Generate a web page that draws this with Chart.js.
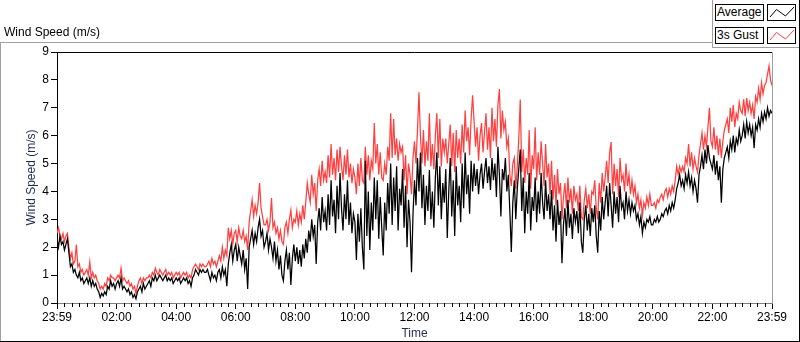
<!DOCTYPE html>
<html>
<head>
<meta charset="utf-8">
<script src="https://cdn.jsdelivr.net/npm/chart.js@4.4.1/dist/chart.umd.min.js"></script>
<style>
  html, body { margin: 0; padding: 0; background: #fff; }
  #wrap { position: relative; width: 800px; height: 342px; overflow: hidden; font-family: "Liberation Sans", Arial, sans-serif; font-size: 12px; color: #000; }
  #chart { position: absolute; left: 0; top: 0; }
  #title { position: absolute; left: 4px; top: 25px; line-height: 14px; white-space: nowrap; }
  .frame { position: absolute; }
  #legend { position: absolute; left: 712px; top: 0; width: 87px; height: 48px; border-left: 1px solid #a0a0a0; border-bottom: 1px solid #a0a0a0; box-sizing: border-box; background: #fff; }
  .lg-name { position: absolute; left: 2px; width: 49px; height: 17px; border: 1px solid #000; box-sizing: border-box; line-height: 14px; padding-left: 1px; white-space: nowrap; }
  .lg-icon { position: absolute; left: 54px; width: 29px; height: 17px; border: 1px solid #000; box-sizing: border-box; }
  .lg-icon svg { position: absolute; left: 0; top: 0; }
</style>
</head>
<body>
<div id="wrap">
  <canvas id="chart" width="800" height="342"></canvas>
  <div id="title">Wind Speed (m/s)</div>
  <div class="frame" style="left:0;top:42px;width:712px;height:1px;background:#a0a0a0"></div>
  <div class="frame" style="left:0;top:42px;width:1px;height:300px;background:#a0a0a0"></div>
  <div class="frame" style="left:0;top:341px;width:800px;height:1px;background:#000"></div>
  <div class="frame" style="left:799px;top:0;width:1px;height:342px;background:#000"></div>
  <div id="legend"></div>
</div>
<script>
// one sample every 3 minutes, 23:59 -> 23:59 (20 values per row = 1 hour)
const SAMPLE_STEP_MIN = 3;

const X_TICK_LABELS = ['23:59', '02:00', '04:00', '06:00', '08:00', '10:00', '12:00',
  '14:00', '16:00', '18:00', '20:00', '22:00', '23:59'];

const AVERAGE = [
  2.3, 2.0, 2.4, 2.1, 2.2, 1.9, 2.1, 2.3, 1.8, 1.3, 1.4, 1.1, 1.2, 1.0, 0.9, 1.1, 0.8, 0.9, 0.7, 0.8,
  0.9, 0.7, 0.9, 0.6, 0.8, 0.6, 0.7, 0.5, 0.4, 0.2, 0.35, 0.25, 0.4, 0.3, 0.6, 0.5, 0.8, 0.6, 0.7, 0.5,
  0.7, 0.8, 0.6, 0.9, 0.5, 0.6, 0.5, 0.4, 0.5, 0.3, 0.4, 0.2, 0.3, 0.15, 0.4, 0.5, 0.6, 0.4, 0.7, 0.5,
  0.6, 0.7, 0.8, 0.6, 0.9, 0.8, 1.0, 0.8, 0.9, 1.0, 0.9, 0.8, 0.9, 1.0, 0.8, 0.9, 0.8, 0.9, 0.7, 0.8,
  0.9, 0.8, 0.9, 0.7, 0.8, 0.9, 0.8, 0.9, 0.7, 0.8, 0.6, 0.9, 1.0, 1.2, 1.1, 1.0, 1.2, 1.1, 1.2, 1.1,
  1.1, 1.2, 1.0, 0.8, 1.1, 0.9, 1.0, 0.8, 1.1, 1.2, 0.9, 1.3, 1.0, 1.2, 0.6, 1.4, 1.8, 2.1, 1.5, 1.9,
  2.1, 1.5, 2.0, 1.7, 1.4, 1.9, 1.2, 1.6, 0.5, 2.0, 2.3, 2.6, 2.1, 2.5, 2.2, 2.7, 3.0, 2.4, 2.6, 2.0,
  2.2, 2.5, 1.9, 2.3, 2.0, 1.6, 2.2, 1.5, 1.9, 1.2, 1.7, 1.0, 0.8, 1.5, 1.9, 1.2, 1.8, 0.65, 1.6, 2.1,
  1.5, 2.0, 1.4, 1.9, 1.3, 2.1, 1.6, 2.3, 1.8, 2.6, 2.2, 3.0, 2.4, 2.8, 1.4, 2.9, 3.4, 2.6, 3.8, 2.9,
  3.3, 2.6, 3.9, 2.8, 4.4, 3.1, 3.7, 2.5, 4.2, 3.0, 4.66, 3.4, 2.6, 3.9, 3.0, 4.4, 2.8, 3.6, 2.5, 3.2,
  2.9, 1.54, 3.2, 2.2, 3.4, 2.0, 1.2, 5.1, 2.4, 4.0, 1.9, 3.6, 2.6, 4.5, 3.0, 4.4, 2.3, 3.8, 2.7, 1.7,
  3.6, 2.6, 4.3, 3.2, 5.0, 2.8, 4.5, 3.3, 4.9, 2.6, 4.1, 3.5, 4.8, 2.7, 4.2, 2.0, 3.7, 2.9, 1.1, 3.2,
  4.4, 3.5, 5.2, 4.0, 5.4, 3.4, 4.6, 2.8, 4.2, 3.3, 4.77, 3.0, 4.0, 2.7, 4.5, 5.4, 3.5, 4.9, 3.0, 4.3,
  3.6, 4.8, 2.33, 4.0, 5.2, 3.1, 4.4, 2.4, 4.9, 3.5, 4.2, 2.9, 5.0, 3.4, 5.4, 3.9, 4.6, 3.2, 5.1, 4.0,
  5.0, 4.2, 4.8, 3.9, 4.6, 5.0, 4.1, 4.7, 5.2, 4.3, 4.9, 4.05, 5.2, 4.4, 5.0, 3.8, 5.6, 4.6, 3.1, 4.8,
  4.4, 5.2, 4.0, 4.6, 3.3, 1.83, 3.6, 4.4, 3.0, 4.1, 4.8, 5.5, 3.3, 4.5, 2.5, 4.0, 3.2, 4.66, 2.6, 3.8,
  3.3, 4.5, 2.9, 4.0, 3.2, 4.66, 3.6, 3.0, 4.4, 3.3, 3.9, 3.0, 4.05, 2.6, 3.5, 2.2, 3.7, 2.8, 3.3, 1.43,
  2.8, 3.4, 2.4, 3.7, 2.7, 3.2, 2.3, 3.4, 2.9, 3.3, 2.5, 3.6, 2.2, 1.8, 3.0, 3.5, 2.6, 3.2, 2.4, 3.4,
  2.9, 3.5, 2.4, 1.8, 3.3, 2.6, 3.8, 3.0, 3.6, 4.2, 3.1, 4.3, 3.5, 2.7, 4.0, 3.2, 3.8, 2.9, 4.2, 3.4,
  3.6, 3.0, 4.0, 3.3, 3.7, 3.2, 3.6, 3.3, 3.5, 3.0, 3.2, 2.8, 3.1, 2.5, 2.9, 2.7, 3.0, 2.9, 3.1, 2.8,
  2.8, 3.0, 2.9, 3.1, 2.9, 3.0, 3.2, 3.1, 3.3, 3.4, 3.2, 3.5, 3.3, 3.6, 3.4, 3.7, 4.1, 4.3, 4.6, 4.2,
  4.4, 4.1, 4.6, 4.3, 4.7, 4.2, 4.5, 4.0, 4.4, 4.1, 3.6, 4.6, 4.9, 5.3, 4.8, 5.5, 5.0, 5.66, 5.2, 5.0,
  4.8, 5.3, 4.6, 5.1, 4.4, 4.9, 3.6, 4.8, 5.2, 5.4, 5.6, 5.2, 5.8, 5.5, 6.0, 5.4, 5.9, 5.7, 6.2, 5.8,
  6.0, 6.4, 5.9, 6.5, 6.1, 6.4, 6.0, 6.3, 5.55, 6.4, 6.2, 6.6, 6.3, 6.8, 6.5, 6.85, 6.6, 7.0, 6.7, 6.9,
  6.8
];

const GUST_3S = [
  2.5, 2.7, 2.4, 2.3, 2.5, 2.2, 2.4, 2.5, 2.0, 1.6, 1.8, 1.4, 1.5, 2.1, 1.3, 1.4, 1.1, 1.2, 1.0, 1.1,
  1.2, 1.0, 1.47, 0.9, 1.1, 0.9, 1.0, 0.8, 0.7, 0.5, 0.6, 0.5, 0.7, 0.6, 0.9, 0.8, 1.0, 0.9, 0.9, 0.8,
  0.9, 1.0, 0.9, 1.25, 0.8, 0.9, 0.8, 0.7, 0.8, 0.6, 0.7, 0.5, 0.6, 0.35, 0.6, 0.8, 0.9, 0.7, 0.9, 0.8,
  0.9, 0.9, 1.0, 0.9, 1.1, 1.0, 1.25, 1.1, 1.0, 1.2, 1.1, 1.0, 1.1, 1.2, 1.0, 1.1, 1.0, 1.1, 0.9, 1.0,
  1.1, 1.0, 1.1, 0.9, 1.0, 1.1, 1.0, 1.1, 0.9, 1.0, 0.9, 1.2, 1.3, 1.4, 1.3, 1.2, 1.4, 1.3, 1.4, 1.3,
  1.3, 1.4, 1.5, 1.3, 1.6, 1.4, 1.5, 1.3, 1.5, 1.7, 1.5, 2.0, 1.6, 1.9, 1.7, 2.7, 2.3, 2.6, 2.1, 2.5,
  2.6, 2.2, 2.7, 2.4, 2.3, 2.6, 2.2, 2.4, 1.9, 2.9, 3.3, 3.7, 3.1, 3.5, 3.2, 3.6, 4.3, 3.4, 3.1, 2.8,
  2.8, 3.0, 2.6, 2.9, 3.76, 2.7, 2.9, 2.5, 2.7, 2.3, 2.6, 2.2, 2.1, 2.7, 2.9, 2.5, 3.0, 3.33, 2.7, 3.0,
  2.9, 3.3, 2.8, 3.2, 2.9, 3.5, 3.0, 3.6, 4.3, 3.9, 3.6, 4.6, 3.9, 4.3, 3.3, 4.4, 4.8, 4.2, 5.1, 4.4,
  4.7, 4.3, 5.3, 4.5, 5.7, 4.6, 5.2, 4.4, 5.5, 4.7, 5.6, 4.9, 4.4, 5.3, 4.6, 5.5, 4.5, 5.0, 4.3, 4.8,
  4.5, 3.9, 5.0, 4.2, 5.2, 4.4, 4.3, 5.6, 4.6, 5.3, 4.4, 5.1, 4.8, 6.45, 5.0, 5.7, 4.6, 5.4, 4.5, 4.4,
  5.0, 4.6, 5.6, 5.1, 6.8, 5.2, 6.6, 5.3, 5.9, 5.1, 5.7, 5.4, 5.6, 4.4, 5.3, 3.9, 5.0, 4.6, 3.9, 5.2,
  5.8, 5.0, 6.2, 7.56, 6.0, 5.0, 6.2, 4.9, 5.8, 5.1, 6.8, 4.9, 5.7, 4.8, 6.0, 6.8, 5.2, 6.6, 4.9, 5.9,
  5.4, 5.9, 5.0, 5.7, 6.4, 4.9, 6.1, 4.7, 6.2, 5.2, 5.9, 5.0, 6.4, 5.4, 6.9, 5.8, 6.3, 5.3, 6.6, 7.45,
  6.5, 5.6, 6.3, 5.1, 6.0, 6.45, 5.4, 6.1, 6.8, 5.5, 6.3, 5.2, 7.0, 5.8, 6.6, 5.6, 7.1, 7.67, 5.9, 6.9,
  6.2, 6.5, 5.6, 5.9, 4.6, 4.2, 5.0, 5.2, 4.1, 4.9, 5.9, 7.3, 4.7, 5.5, 4.3, 5.2, 4.6, 6.2, 4.1, 5.3,
  4.8, 6.3, 4.4, 5.4, 4.6, 5.8, 5.0, 4.2, 5.7, 4.5, 5.0, 3.9, 5.1, 3.7, 4.6, 3.5, 4.8, 3.9, 4.3, 3.0,
  3.8, 4.3, 3.4, 4.5, 3.6, 4.1, 3.2, 4.2, 3.7, 3.9, 3.3, 4.2, 3.1, 3.0, 3.7, 4.1, 3.4, 3.9, 3.2, 4.0,
  3.9, 4.4, 3.4, 3.0, 4.3, 3.6, 4.66, 4.0, 4.5, 5.1, 4.3, 5.4, 5.77, 3.9, 5.0, 4.2, 4.8, 3.8, 5.2, 4.4,
  4.6, 4.0, 5.0, 4.2, 4.6, 3.9, 4.4, 3.9, 4.2, 3.6, 3.9, 3.4, 3.7, 3.15, 3.6, 3.4, 3.8, 3.5, 3.9, 3.5,
  3.5, 3.6, 3.4, 3.7, 3.6, 3.8, 3.9, 3.7, 4.0, 4.1, 3.8, 4.1, 3.9, 4.2, 4.0, 4.4, 4.9, 4.6, 4.9, 4.7,
  4.9, 4.7, 5.2, 5.0, 5.7, 4.9, 5.4, 4.8, 5.2, 4.9, 4.7, 5.3, 5.7, 6.1, 5.5, 6.0, 5.6, 6.3, 7.0, 5.8,
  5.6, 6.3, 5.5, 6.0, 5.3, 5.9, 5.2, 5.8, 6.2, 6.4, 6.6, 6.1, 7.0, 6.5, 7.1, 6.3, 6.8, 6.6, 7.2, 6.9,
  6.8, 7.3, 6.7, 7.35, 6.9, 7.2, 6.8, 7.1, 6.6, 7.4, 7.2, 7.7, 7.3, 7.9, 7.5, 7.8, 7.9, 8.2, 8.5, 8.0,
  7.8
];

const SERIES_NAMES = ['Average', '3s Gust'];
const SERIES_COLORS = ['#000000', '#ff4040'];

const toPoints = arr => arr.map((v, i) => ({ x: i * SAMPLE_STEP_MIN, y: v }));

// minor ticks every 15 min, plus the sunken plot frame on top / right
const plotFrame = {
  id: 'plotFrame',
  afterDraw(chart) {
    const { ctx, chartArea: a } = chart;
    const xs = chart.scales.x;
    ctx.save();
    ctx.lineWidth = 1;
    ctx.strokeStyle = '#000';
    ctx.beginPath();
    for (let m = 15; m < 1440; m += 15) {
      if (m % 120 === 0) continue;
      const px = Math.round(xs.getPixelForValue(m)) + 0.5;
      ctx.moveTo(px, a.bottom);
      ctx.lineTo(px, a.bottom + 4);
    }
    ctx.stroke();
    ctx.beginPath();
    ctx.moveTo(a.left, a.top + 0.5);
    ctx.lineTo(a.right, a.top + 0.5);
    ctx.stroke();
    ctx.strokeStyle = '#a0a0a0';
    ctx.beginPath();
    ctx.moveTo(a.right + 0.5, a.top);
    ctx.lineTo(a.right + 0.5, a.bottom);
    ctx.stroke();
    ctx.restore();
  }
};

const font = { family: '"Liberation Sans", Arial, sans-serif', size: 12 };

const chart = new Chart(document.getElementById('chart'), {
  type: 'line',
  data: {
    datasets: [
      { label: SERIES_NAMES[0], data: toPoints(AVERAGE), borderColor: SERIES_COLORS[0] },
      { label: SERIES_NAMES[1], data: toPoints(GUST_3S), borderColor: SERIES_COLORS[1] }
    ]
  },
  options: {
    responsive: false,
    animation: false,
    devicePixelRatio: 1,
    layout: { padding: { left: 20, top: 52, right: 28, bottom: 0 } },
    elements: {
      line: { borderWidth: 1.25, tension: 0 },
      point: { radius: 0 }
    },
    plugins: { legend: { display: false }, tooltip: { enabled: false } },
    scales: {
      x: {
        type: 'linear',
        min: 0,
        max: 1440,
        afterFit: s => { s.height = 39; },
        border: { color: '#808080' },
        grid: { drawOnChartArea: false, tickLength: 6, tickColor: '#000' },
        ticks: {
          stepSize: 120,
          autoSkip: false,
          maxRotation: 0,
          padding: 1,
          color: '#000',
          font,
          callback: v => X_TICK_LABELS[Math.round(v / 120)]
        },
        title: { display: true, text: 'Time', color: '#1e2b55', font, padding: { top: 4, bottom: 1 } }
      },
      y: {
        min: 0,
        max: 9,
        afterFit: s => { s.width = 37; },
        border: { color: '#000' },
        grid: { drawOnChartArea: false, tickLength: 6, tickColor: '#000' },
        ticks: { stepSize: 1, padding: 2, color: '#000', font },
        title: { display: true, text: 'Wind Speed (m/s)', color: '#1e2b55', font, padding: { top: 4, bottom: 4 } }
      }
    }
  },
  plugins: [plotFrame]
});

// LabVIEW style plot legend: name box + line swatch box
const legend = document.getElementById('legend');
chart.data.datasets.forEach((ds, i) => {
  const top = 4 + i * 23;
  const name = document.createElement('div');
  name.className = 'lg-name';
  name.style.top = top + 'px';
  name.textContent = ds.label;
  const icon = document.createElement('div');
  icon.className = 'lg-icon';
  icon.style.top = top + 'px';
  icon.innerHTML = '<svg width="27" height="15" viewBox="0 0 27 15">' +
    '<polyline points="2,12 8.5,4.5 17.5,11 26,2" fill="none" stroke="' + ds.borderColor + '" stroke-width="1"/></svg>';
  legend.appendChild(name);
  legend.appendChild(icon);
});
</script>
</body>
</html>
